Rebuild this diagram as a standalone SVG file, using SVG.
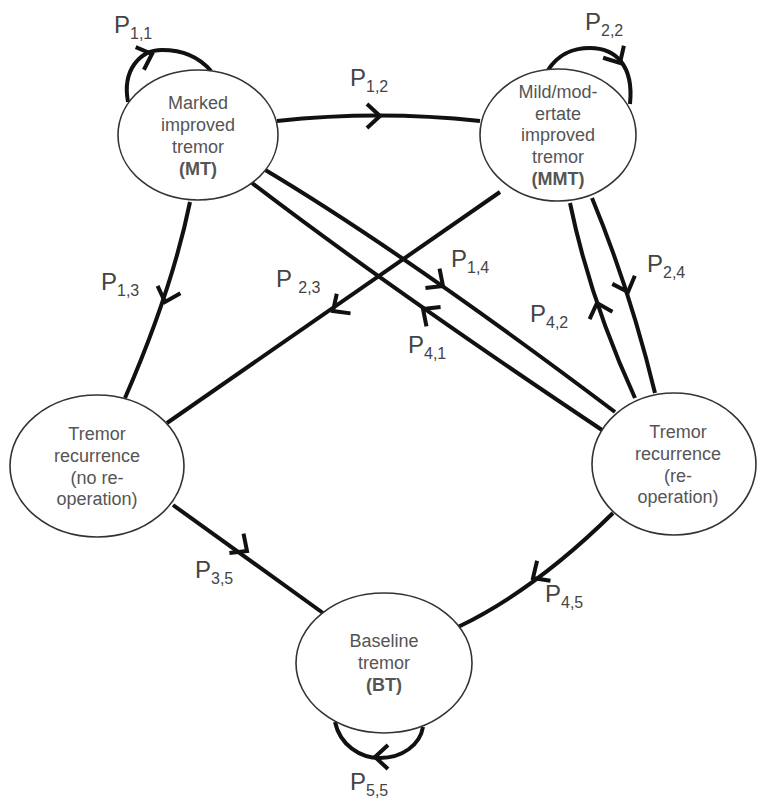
<svg xmlns="http://www.w3.org/2000/svg" xmlns:xlink="http://www.w3.org/1999/xlink" width="758" height="800" viewBox="0 0 758 800">
<style>
.edge{fill:none;stroke:#111;stroke-width:4}
.chev{fill:none;stroke:#111;stroke-width:4;stroke-linejoin:miter}
.node{fill:#fff;stroke:#333;stroke-width:1.6}
.nt{font-family:"Liberation Sans",Arial,sans-serif;font-size:18px;fill:#555;text-anchor:middle}
.b{font-weight:bold}
.lbl{font-family:"Liberation Sans",Arial,sans-serif;font-size:24px;fill:#444}
.sub{font-size:16px}
</style>
<defs>
<path id="ch" d="M-13,-12 L0,0 L-13,12"/>
</defs>
<rect width="758" height="800" fill="#fff"/>
<g id="connectors">
<path class="edge" d="M128,102 C122,70 140,50 162,50 C185,50 200,58 211,71"/>
<path class="edge" d="M548,70 C560,52 575,48 590,48 C615,48 634,65 630,104"/>
<path class="edge" d="M335,722 C340,745 360,758 380,758 C402,758 420,745 423,727"/>
<path class="edge" d="M277,121 Q378,110 480,121"/>
<path class="edge" d="M190,202 Q172,290 125,398"/>
<path class="edge" d="M500,192 L167,423"/>
<path class="edge" d="M262,168 Q400,250 615,412"/>
<path class="edge" d="M248,180 Q385,285 602,430"/>
<path class="edge" d="M570,203 Q590,300 635,398"/>
<path class="edge" d="M592,198 Q630,290 655,393"/>
<path class="edge" d="M173,505 L323,613"/>
<path class="edge" d="M613,513 Q535,590 458,627"/>
<use href="#ch" class="chev" transform="translate(152,54) rotate(-20)"/>
<use href="#ch" class="chev" transform="translate(620,63) rotate(60)"/>
<use href="#ch" class="chev" transform="translate(375,757) rotate(180)"/>
<use href="#ch" class="chev" transform="translate(380,116) rotate(0)"/>
<use href="#ch" class="chev" transform="translate(165,302) rotate(108)"/>
<use href="#ch" class="chev" transform="translate(333,311) rotate(145)"/>
<use href="#ch" class="chev" transform="translate(443,286) rotate(36)"/>
<use href="#ch" class="chev" transform="translate(423,309) rotate(216)"/>
<use href="#ch" class="chev" transform="translate(597,303) rotate(252)"/>
<use href="#ch" class="chev" transform="translate(628,292) rotate(70)"/>
<use href="#ch" class="chev" transform="translate(247,551) rotate(36)"/>
<use href="#ch" class="chev" transform="translate(533,578) rotate(146)"/>
</g>
<g id="labels">
<text class="lbl" x="114" y="33">P<tspan class="sub" dy="6">1,1</tspan></text>
<text class="lbl" x="585" y="30">P<tspan class="sub" dy="6">2,2</tspan></text>
<text class="lbl" x="350" y="86">P<tspan class="sub" dy="6">1,2</tspan></text>
<text class="lbl" x="101" y="290">P<tspan class="sub" dy="6">1,3</tspan></text>
<text class="lbl" x="276" y="287">P <tspan class="sub" dy="6">2,3</tspan></text>
<text class="lbl" x="451" y="267">P<tspan class="sub" dy="6">1,4</tspan></text>
<text class="lbl" x="408" y="353">P<tspan class="sub" dy="6">4,1</tspan></text>
<text class="lbl" x="647" y="272">P<tspan class="sub" dy="6">2,4</tspan></text>
<text class="lbl" x="530" y="322">P<tspan class="sub" dy="6">4,2</tspan></text>
<text class="lbl" x="195" y="578">P<tspan class="sub" dy="6">3,5</tspan></text>
<text class="lbl" x="545" y="602">P<tspan class="sub" dy="6">4,5</tspan></text>
<text class="lbl" x="350" y="790">P<tspan class="sub" dy="6">5,5</tspan></text>
</g>
<g id="MT">
<ellipse class="node" cx="198" cy="135" rx="80" ry="65"/>
<text class="nt" x="198" y="109">Marked</text>
<text class="nt" x="198" y="131">improved</text>
<text class="nt" x="198" y="153">tremor</text>
<text class="nt b" x="198" y="175">(MT)</text>
</g>
<g id="MMT">
<ellipse class="node" cx="558" cy="135" rx="78" ry="66"/>
<text class="nt" x="558" y="98">Mild/mod-</text>
<text class="nt" x="558" y="120">ertate</text>
<text class="nt" x="558" y="141">improved</text>
<text class="nt" x="558" y="163">tremor</text>
<text class="nt b" x="558" y="185">(MMT)</text>
</g>
<g id="TRN">
<ellipse class="node" cx="97" cy="466" rx="87" ry="71"/>
<text class="nt" x="97" y="440">Tremor</text>
<text class="nt" x="97" y="462">recurrence</text>
<text class="nt" x="97" y="484">(no re-</text>
<text class="nt" x="97" y="505">operation)</text>
</g>
<g id="TRR">
<ellipse class="node" cx="674" cy="464" rx="82" ry="71"/>
<text class="nt" x="678" y="438">Tremor</text>
<text class="nt" x="678" y="460">recurrence</text>
<text class="nt" x="678" y="482">(re-</text>
<text class="nt" x="678" y="503">operation)</text>
</g>
<g id="BT">
<ellipse class="node" cx="384" cy="663" rx="88" ry="70"/>
<text class="nt" x="384" y="647">Baseline</text>
<text class="nt" x="384" y="669">tremor</text>
<text class="nt b" x="384" y="691">(BT)</text>
</g>
</svg>
